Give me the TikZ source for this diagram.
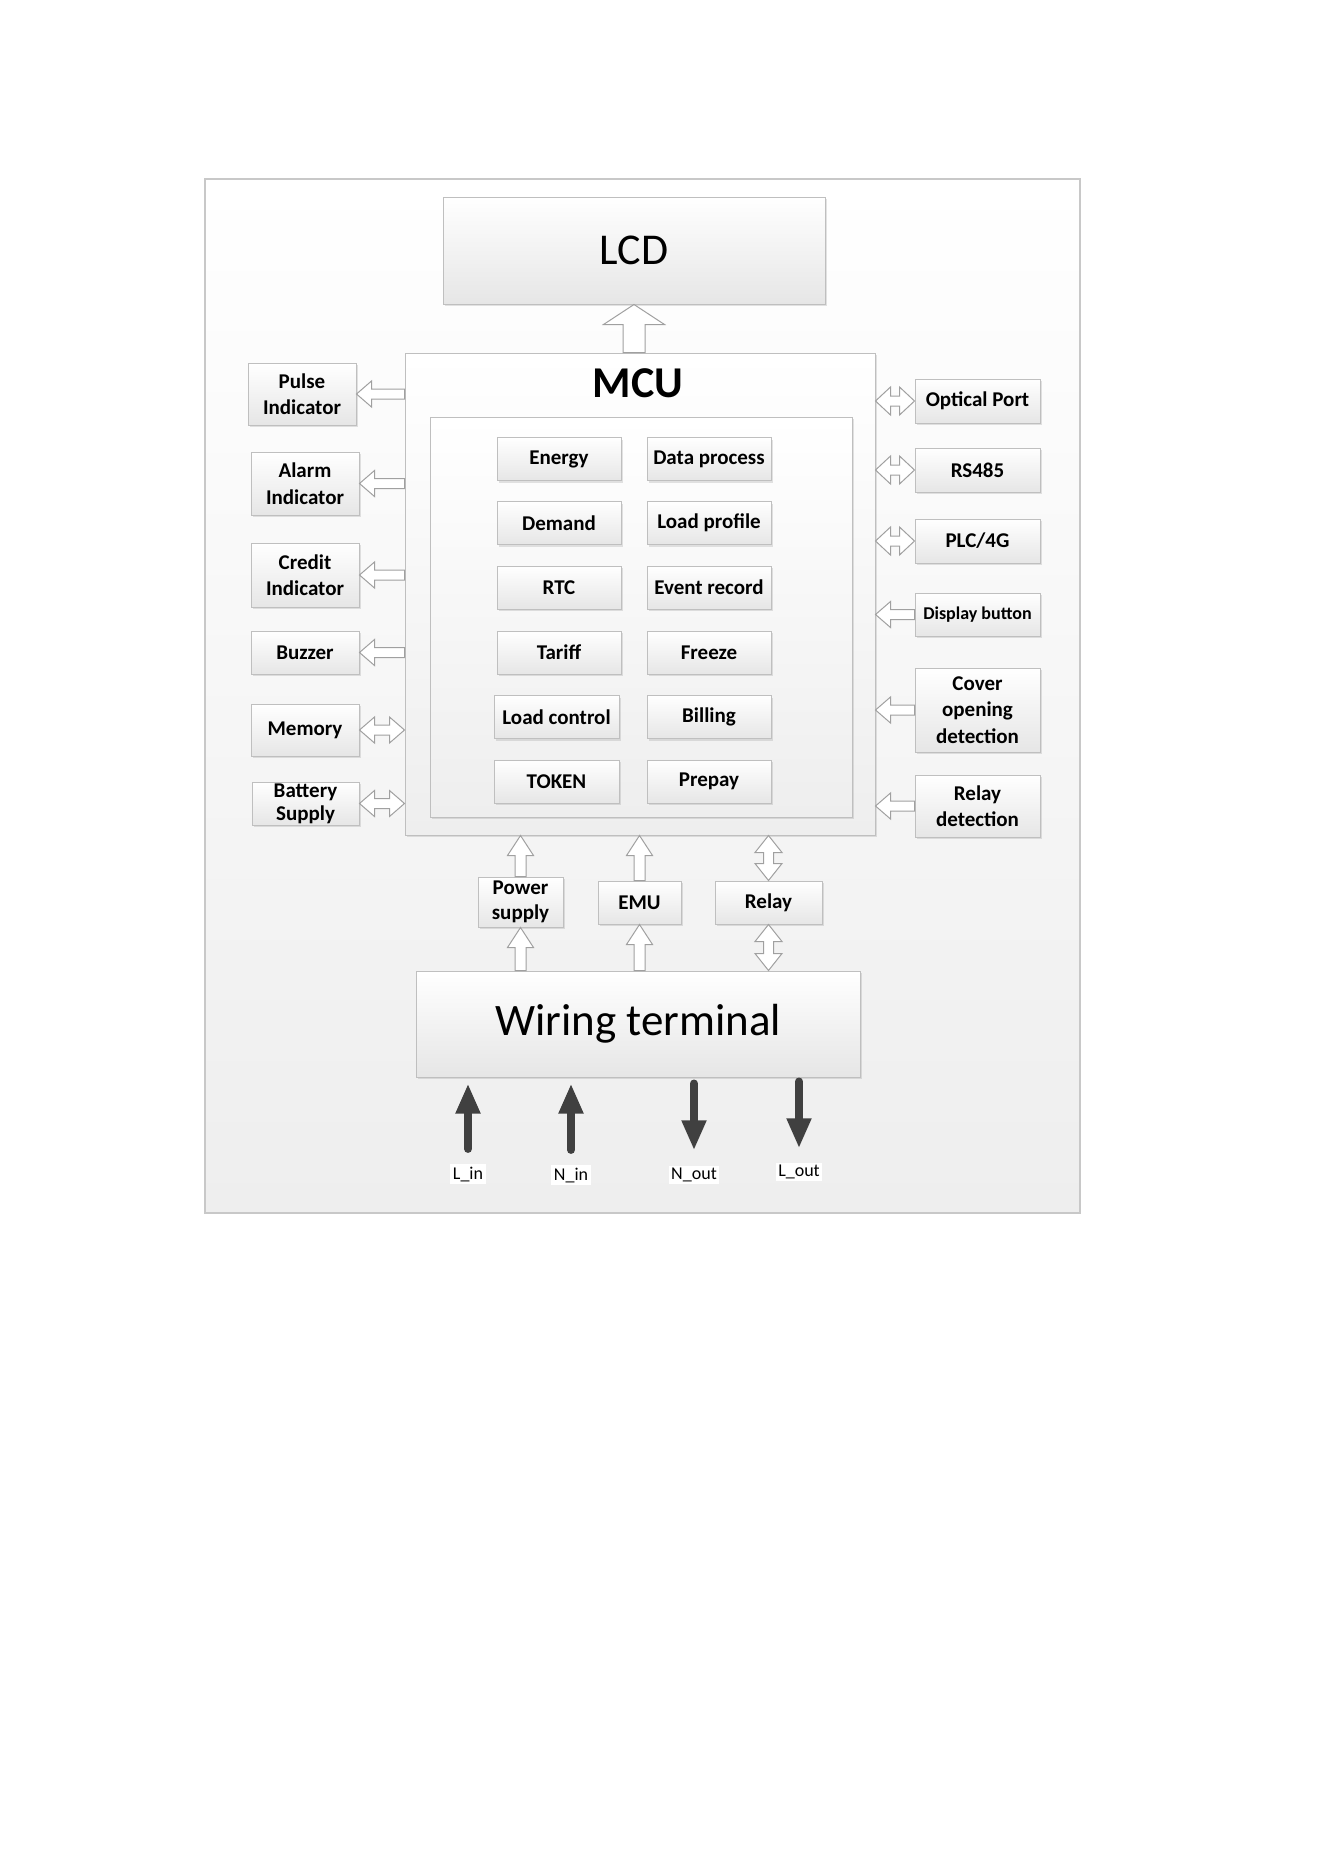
\documentclass[tikz,border=0pt]{standalone}
\usepackage{fontspec}
\setmainfont{Carlito}
\usetikzlibrary{calc,arrows.meta,shadows}
\definecolor{boxgray}{HTML}{BFBFBF}
\definecolor{boxbot}{HTML}{E6E6E6}
\definecolor{framegray}{HTML}{C8C8C8}
\definecolor{framebot}{HTML}{EEEEEE}
\definecolor{arrgray}{HTML}{A0A0A0}
\definecolor{darkarr}{HTML}{404040}
% single hollow block arrow: tail, tip, shaft half width, head half width, head length
\newcommand\hsingle[5]{%
  \coordinate (hb) at ($(#2)!#5!(#1)$);
  \path[harrow] ($(#1)!#3!90:(#2)$) -- ($(hb)!#3!-90:(#1)$) -- ($(hb)!#4!-90:(#1)$) -- (#2)
    -- ($(hb)!#4!90:(#1)$) -- ($(hb)!#3!90:(#1)$) -- ($(#1)!#3!-90:(#2)$) -- cycle;}
% double hollow block arrow
\newcommand\hdouble[5]{%
  \coordinate (ha) at ($(#1)!#5!(#2)$);
  \coordinate (hb) at ($(#2)!#5!(#1)$);
  \path[harrow] (#1) -- ($(ha)!#4!90:(#2)$) -- ($(ha)!#3!90:(#2)$) -- ($(hb)!#3!-90:(#1)$)
    -- ($(hb)!#4!-90:(#1)$) -- (#2) -- ($(hb)!#4!90:(#1)$) -- ($(hb)!#3!90:(#1)$)
    -- ($(ha)!#3!-90:(#2)$) -- ($(ha)!#4!-90:(#2)$) -- cycle;}
\begin{document}
\begin{tikzpicture}[x=1pt,y=-1pt,
  harrow/.style={draw=arrgray, fill=white, line width=1pt, line join=miter},
  box/.style={draw=boxgray, line width=1pt, top color=white, bottom color=boxbot,
    drop shadow={shadow xshift=2pt, shadow yshift=-2pt, opacity=0.22},
    inner sep=0pt, align=center, font=\bfseries\fontsize{21}{26.5}\selectfont},
  modbox/.style={box, minimum width=124pt, minimum height=43pt},
  lbox/.style={box, minimum width=108pt},
  rbox/.style={box, minimum width=125pt},
  lbl/.style={fill=white, inner sep=2.5pt, font=\fontsize{18}{20}\selectfont},
  darr/.style={draw=darkarr, line width=8pt, line cap=round, -{Triangle[width=23pt,length=30pt]}}
]
\useasboundingbox (0,0) rectangle (1324,1872);
\fill[white] (0,0) rectangle (1324,1872);
% outer frame
\path[draw=framegray, line width=1.5pt, top color=white, bottom color=framebot] (205,179) rectangle (1080,1213);

% main blocks
\node[box, minimum width=382pt, minimum height=107pt, font=\fontsize{44}{50}\selectfont] (lcd) at (634,250.5) {LCD};
\node[box, minimum width=470pt, minimum height=482pt, bottom color=framebot] (mcu) at (640,594) {};
\node[font=\bfseries\fontsize{44}{50}\selectfont] (mcut) at (638,383) {MCU};
\node[box, minimum width=422pt, minimum height=400pt, bottom color=framebot, drop shadow={opacity=0}] (inner) at (641,617) {};

% modules
\node[modbox] (energy)  at (559,459)   {Energy};
\node[modbox] (demand)  at (559,523)   {Demand};
\node[modbox] (rtc)     at (559,587.5) {RTC};
\node[modbox] (tariff)  at (559,652.5) {Tariff};
\node[modbox, minimum width=125pt] (loadc) at (556.5,717) {Load control};
\node[modbox, minimum width=125pt] (token) at (556.5,781.5) {TOKEN};
\node[modbox] (datap)   at (709,459)   {Data process};
\node[modbox] (loadp)   at (709,523)   {Load profile};
\node[modbox] (event)   at (709,587.5) {Event record};
\node[modbox] (freeze)  at (709,652.5) {Freeze};
\node[modbox] (billing) at (709,717)   {Billing};
\node[modbox] (prepay)  at (709,781.5) {Prepay};

% left peripherals
\node[lbox, minimum height=62pt] (pulse)   at (302,394)   {Pulse\\Indicator};
\node[lbox, minimum height=63pt] (alarm)   at (305,483.5) {Alarm\\Indicator};
\node[lbox, minimum height=64pt] (credit)  at (305,575)   {Credit\\Indicator};
\node[lbox, minimum height=43pt] (buzzer)  at (305,652.5) {Buzzer};
\node[lbox, minimum height=52pt] (memory)  at (305,730)   {Memory};
\node[lbox, minimum height=43pt, minimum width=107pt, font=\bfseries\fontsize{21}{23}\selectfont] (battery) at (305.5,803.5) {Battery\\Supply};

% right peripherals
\node[rbox, minimum height=44pt] (optical) at (977.5,401)   {Optical Port};
\node[rbox, minimum height=44pt] (rs485)   at (977.5,470)   {RS485};
\node[rbox, minimum height=44pt] (plc)     at (977.5,541)   {PLC/4G};
\node[rbox, minimum height=43pt, font=\bfseries\fontsize{18}{22}\selectfont] (display) at (977.5,614.5) {Display button};
\node[rbox, minimum height=84pt] (cover)   at (977.5,710)   {Cover\\opening\\detection};
\node[rbox, minimum height=62pt] (relayd)  at (977.5,806)   {Relay\\detection};

% bottom blocks
\node[box, minimum width=85pt, minimum height=50pt, font=\bfseries\fontsize{21}{25}\selectfont] (power) at (520.5,902) {Power\\supply};
\node[box, minimum width=83pt, minimum height=43pt] (emu) at (639.5,902.5) {EMU};
\node[box, minimum width=107pt, minimum height=43pt] (relay) at (768.5,902.5) {Relay};
\node[box, minimum width=444pt, minimum height=106pt, font=\fontsize{45}{50}\selectfont] (wiring) at (638,1024) {Wiring terminal};

% terminal labels
\node[lbl] (lin)  at (468,1174) {L\_in};
\node[lbl] (nin)  at (571,1175) {N\_in};
\node[lbl] (nout) at (694,1175) {N\_out};
\node[lbl] (lout) at (799,1172) {L\_out};

% hollow arrows: MCU -> LCD
\coordinate (c0) at (mcu.north -| lcd);
\hsingle{c0}{lcd.south}{11pt}{30.5pt}{20pt}
% MCU -> left indicators
\coordinate (c1) at (mcu.west |- pulse);   \hsingle{c1}{pulse.east}{5pt}{13pt}{15pt}
\coordinate (c2) at (mcu.west |- alarm);   \hsingle{c2}{alarm.east}{5pt}{13pt}{15pt}
\coordinate (c3) at (mcu.west |- credit);  \hsingle{c3}{credit.east}{5pt}{13pt}{15pt}
\coordinate (c4) at (mcu.west |- buzzer);  \hsingle{c4}{buzzer.east}{5pt}{13pt}{15pt}
\coordinate (c5) at (mcu.west |- memory);  \hdouble{memory.east}{c5}{5pt}{13pt}{15pt}
\coordinate (c6) at (mcu.west |- battery); \hdouble{battery.east}{c6}{5pt}{13pt}{15pt}
% right side
\coordinate (d1) at (mcu.east |- optical); \hdouble{d1}{optical.west}{5pt}{14pt}{15pt}
\coordinate (d2) at (mcu.east |- rs485);   \hdouble{d2}{rs485.west}{5pt}{14pt}{15pt}
\coordinate (d3) at (mcu.east |- plc);     \hdouble{d3}{plc.west}{5pt}{14pt}{15pt}
\coordinate (d4) at (mcu.east |- display); \hsingle{display.west}{d4}{5pt}{13pt}{15pt}
\coordinate (d5) at (mcu.east |- cover);   \hsingle{cover.west}{d5}{5pt}{13pt}{15pt}
\coordinate (d6) at (mcu.east |- relayd);  \hsingle{relayd.west}{d6}{5pt}{13pt}{15pt}
% bottom: blocks -> MCU
\coordinate (e1) at (mcu.south -| power);  \hsingle{power.north}{e1}{5.5pt}{13pt}{20pt}
\coordinate (e2) at (mcu.south -| emu);    \hsingle{emu.north}{e2}{5.5pt}{13pt}{20pt}
\coordinate (e3) at (mcu.south -| relay);  \hdouble{relay.north}{e3}{5pt}{13.5pt}{17pt}
% wiring -> blocks
\coordinate (f1) at (wiring.north -| power); \hsingle{f1}{power.south}{5.5pt}{13pt}{20pt}
\coordinate (f2) at (wiring.north -| emu);   \hsingle{f2}{emu.south}{5.5pt}{13pt}{20pt}
\coordinate (f3) at (wiring.north -| relay); \hdouble{relay.south}{f3}{5pt}{13.5pt}{17pt}

% dark power arrows
\draw[darr, shorten <=15pt, shorten >=6pt] (lin.north) -- (wiring.south -| lin);
\draw[darr, shorten <=15pt, shorten >=6pt] (nin.north) -- (wiring.south -| nin);
\draw[darr, shorten <=6pt, shorten >=15pt] (wiring.south -| nout) -- (nout.north);
\draw[darr, shorten <=4pt, shorten >=14pt] (wiring.south -| lout) -- (lout.north);
\end{tikzpicture}
\end{document}
